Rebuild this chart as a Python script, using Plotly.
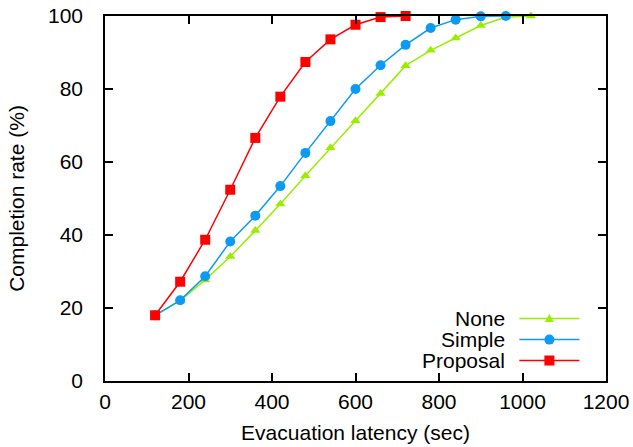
import plotly.graph_objects as go

# ---- data ----
latency = [120, 180, 240, 300, 360, 420, 480, 540, 600, 660, 720, 780, 840, 900, 960, 1020]
none_rate = [18, 22, 27.7, 34.1, 41.2, 48.5, 56.2, 63.9, 71.3, 78.8, 86.4, 90.6, 94.0, 97.4, 99.7, 100]
simple_rate = [18, 22.1, 28.7, 38.2, 45.3, 53.4, 62.5, 71.2, 80.0, 86.5, 92.1, 96.7, 99.0, 99.9, 100]
proposal_rate = [18, 27.2, 38.7, 52.4, 66.6, 77.9, 87.4, 93.6, 97.6, 99.7, 100]

series_names = ["None", "Simple", "Proposal"]
x_ticks = [0, 200, 400, 600, 800, 1000, 1200]
y_ticks = [0, 20, 40, 60, 80, 100]

GREEN = "#99ee00"
BLUE = "#0c9af5"
RED = "#ff0000"
FONT = "Liberation Sans, Arial, sans-serif"
FS = 21

fig = go.Figure()
fig.add_trace(go.Scatter(x=latency[:len(none_rate)], y=none_rate, mode="lines+markers",
                         name=series_names[0], line=dict(color=GREEN, width=1.5),
                         marker=dict(symbol="triangle-up", size=9, color=GREEN),
                         cliponaxis=False, showlegend=False))
fig.add_trace(go.Scatter(x=latency[:len(simple_rate)], y=simple_rate, mode="lines+markers",
                         name=series_names[1], line=dict(color=BLUE, width=1.5),
                         marker=dict(symbol="circle", size=10, color=BLUE),
                         cliponaxis=False, showlegend=False))
fig.add_trace(go.Scatter(x=latency[:len(proposal_rate)], y=proposal_rate, mode="lines+markers",
                         name=series_names[2], line=dict(color=RED, width=1.5),
                         marker=dict(symbol="square", size=10, color=RED),
                         cliponaxis=False, showlegend=False))

# ---- manual legend (text left of sample, like gnuplot) ----
rows_y = [0.171, 0.1134, 0.0561]
colors = [GREEN, BLUE, RED]
shapes = []
annotations = []
for name, yy, col, kind in zip(series_names, rows_y, colors, ["tri", "circ", "sq"]):
    annotations.append(dict(xref="paper", yref="paper", x=0.802, y=yy, xanchor="right",
                            yanchor="middle", text=name, showarrow=False,
                            font=dict(family=FONT, size=FS, color="black")))
    shapes.append(dict(type="line", xref="paper", yref="paper", x0=0.827, x1=0.947,
                       y0=yy, y1=yy, line=dict(color=col, width=1.5)))
    common = dict(xref="paper", yref="paper", xsizemode="pixel", ysizemode="pixel",
                  xanchor=0.887, yanchor=yy, fillcolor=col, line=dict(color=col, width=0))
    if kind == "sq":
        shapes.append(dict(type="rect", x0=-5, x1=5, y0=-5, y1=5, **common))
    elif kind == "circ":
        shapes.append(dict(type="circle", x0=-5, x1=5, y0=-5, y1=5, **common))
    else:
        shapes.append(dict(type="path", path="M -4.5 -3.5 L 4.5 -3.5 L 0 4.5 Z", **common))

axis_common = dict(showline=True, linecolor="black", linewidth=1.5, mirror="allticks",
                   ticks="inside", ticklen=8, tickwidth=1.5, tickcolor="black",
                   showgrid=False, zeroline=False, automargin=False,
                   tickfont=dict(family=FONT, size=FS, color="black"))

fig.update_layout(
    width=633, height=447,
    margin=dict(l=105, r=27, t=16, b=66, autoexpand=False),
    plot_bgcolor="white", paper_bgcolor="white",
    xaxis=dict(range=[0, 1200], tickvals=x_ticks,
               title=dict(text="Evacuation latency (sec)", font=dict(family=FONT, size=FS, color="black"), standoff=13),
               ticklabelstandoff=1, **axis_common),
    yaxis=dict(range=[0, 100], tickvals=y_ticks,
               title=dict(text="Completion rate (%)", font=dict(family=FONT, size=FS, color="black"), standoff=18),
               ticklabelstandoff=16, **axis_common),
    shapes=shapes, annotations=annotations,
)

fig.write_html("out.html", config={"displayModeBar": False},
               post_script="document.body.style.margin='0';document.body.style.overflow='hidden';")
